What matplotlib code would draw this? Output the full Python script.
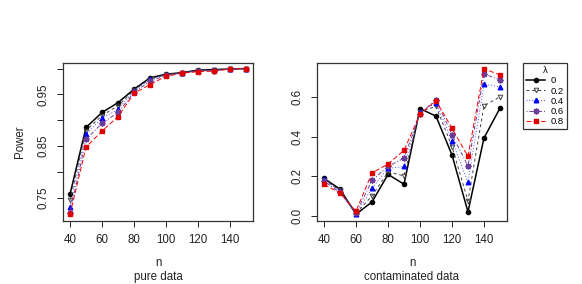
import matplotlib
matplotlib.use("Agg")
import matplotlib.pyplot as plt
from matplotlib.lines import Line2D

plt.rcParams['font.family'] = ['Liberation Sans', 'DejaVu Sans']

n = [40, 50, 60, 70, 80, 90, 100, 110, 120, 130, 140, 150]
lambdas = ["0", "0.2", "0.4", "0.6", "0.8"]

pure = {
    "0":   [0.757, 0.886, 0.915, 0.934, 0.960, 0.982, 0.989, 0.992, 0.997, 0.998, 0.999, 1.000],
    "0.2": [0.745, 0.880, 0.909, 0.928, 0.958, 0.980, 0.988, 0.992, 0.996, 0.997, 0.999, 1.000],
    "0.4": [0.732, 0.873, 0.904, 0.921, 0.957, 0.979, 0.988, 0.992, 0.996, 0.997, 0.999, 1.000],
    "0.6": [0.721, 0.863, 0.894, 0.915, 0.954, 0.975, 0.987, 0.991, 0.995, 0.996, 0.999, 1.000],
    "0.8": [0.718, 0.848, 0.879, 0.907, 0.952, 0.969, 0.985, 0.991, 0.994, 0.995, 0.999, 1.000],
}

contam = {
    "0":   [0.190, 0.136, 0.010, 0.072, 0.210, 0.161, 0.541, 0.503, 0.308, 0.022, 0.393, 0.543],
    "0.2": [0.182, 0.130, 0.015, 0.102, 0.222, 0.203, 0.525, 0.552, 0.350, 0.077, 0.555, 0.600],
    "0.4": [0.185, 0.125, 0.010, 0.141, 0.240, 0.250, 0.525, 0.570, 0.380, 0.170, 0.664, 0.650],
    "0.6": [0.175, 0.120, 0.015, 0.180, 0.250, 0.292, 0.515, 0.585, 0.410, 0.252, 0.715, 0.685],
    "0.8": [0.160, 0.116, 0.025, 0.218, 0.262, 0.331, 0.513, 0.581, 0.442, 0.301, 0.741, 0.710],
}

styles = {
    "0":   dict(color="black", ls="-", lw=1.1, marker="o", ms=3.0, mfc="black", mec="black"),
    "0.2": dict(color="#404040", ls=(0, (3, 3)), lw=0.7, marker="v", ms=3.3, mfc="none", mec="#404040", mew=0.7),
    "0.4": dict(color="#5050ff", ls=(0, (1, 2)), lw=0.7, marker="^", ms=3.3, mfc="blue", mec="blue"),
    "0.6": dict(color="#6a3d9a", ls=(0, (1, 2, 4, 2)), lw=0.7, marker=(8, 2, 0), ms=4.2, mfc="#6a3d9a", mec="#6a3d9a", mew=1.1),
    "0.8": dict(color="red", ls=(0, (5, 2.5)), lw=0.7, marker="s", ms=2.8, mfc="#e00000", mec="#e00000"),
}

W, H = 582, 284
fig = plt.figure(figsize=(W / 100, H / 100), dpi=100)

ax1 = fig.add_axes([63 / W, 1 - 221 / H, 190 / W, 158 / H])
ax2 = fig.add_axes([317 / W, 1 - 221 / H, 190 / W, 158 / H])

for lam in lambdas:
    ax1.plot(n, pure[lam], **styles[lam])
    ax2.plot(n, contam[lam], **styles[lam])

for ax in (ax1, ax2):
    ax.set_xlim(35.6, 154.4)
    ax.set_xticks([40, 60, 80, 100, 120, 140])
    ax.tick_params(axis='both', direction='out', length=4.5, width=0.7, labelsize=8.3,
                   pad=5, colors='#222222', labelcolor='#222222')
    for s in ax.spines.values():
        s.set_linewidth(0.9)
        s.set_color('#333333')

ax1.set_ylim(0.705, 1.0107)
ax1.set_yticks([0.75, 0.80, 0.85, 0.90, 0.95, 1.00])
ax1.set_yticklabels(["0.75", "", "0.85", "", "0.95", ""], rotation=90, va='center')
ax2.set_ylim(-0.024, 0.77)
ax2.set_yticks([0.0, 0.2, 0.4, 0.6])
ax2.set_yticklabels(["0.0", "0.2", "0.4", "0.6"], rotation=90, va='center')

fig.text(20 / W, 1 - 142 / H, "Power", rotation=90, ha='center', va='center', fontsize=8.3, color='#222222')
for cx, sub in ((158, "pure data"), (412, "contaminated data")):
    fig.text(cx / W, 1 - 263 / H, "n", ha='center', va='center', fontsize=8.3, color='#222222')
    fig.text(cx / W, 1 - 277 / H, sub, ha='center', va='center', fontsize=8.3, color='#222222')

handles = [Line2D([], [], **styles[lam]) for lam in lambdas]
leg = fig.legend(handles, lambdas, title="λ", loc='upper left',
                 bbox_to_anchor=(523 / W, 1 - 63 / H), fontsize=6.8, title_fontsize=6.8,
                 frameon=True, fancybox=False, edgecolor='#333333', framealpha=1,
                 handlelength=2.0, handletextpad=0.6, labelspacing=0.12, borderpad=0.35,
                 borderaxespad=0)
leg.get_frame().set_linewidth(0.9)

fig.savefig("out.png", dpi=100)
